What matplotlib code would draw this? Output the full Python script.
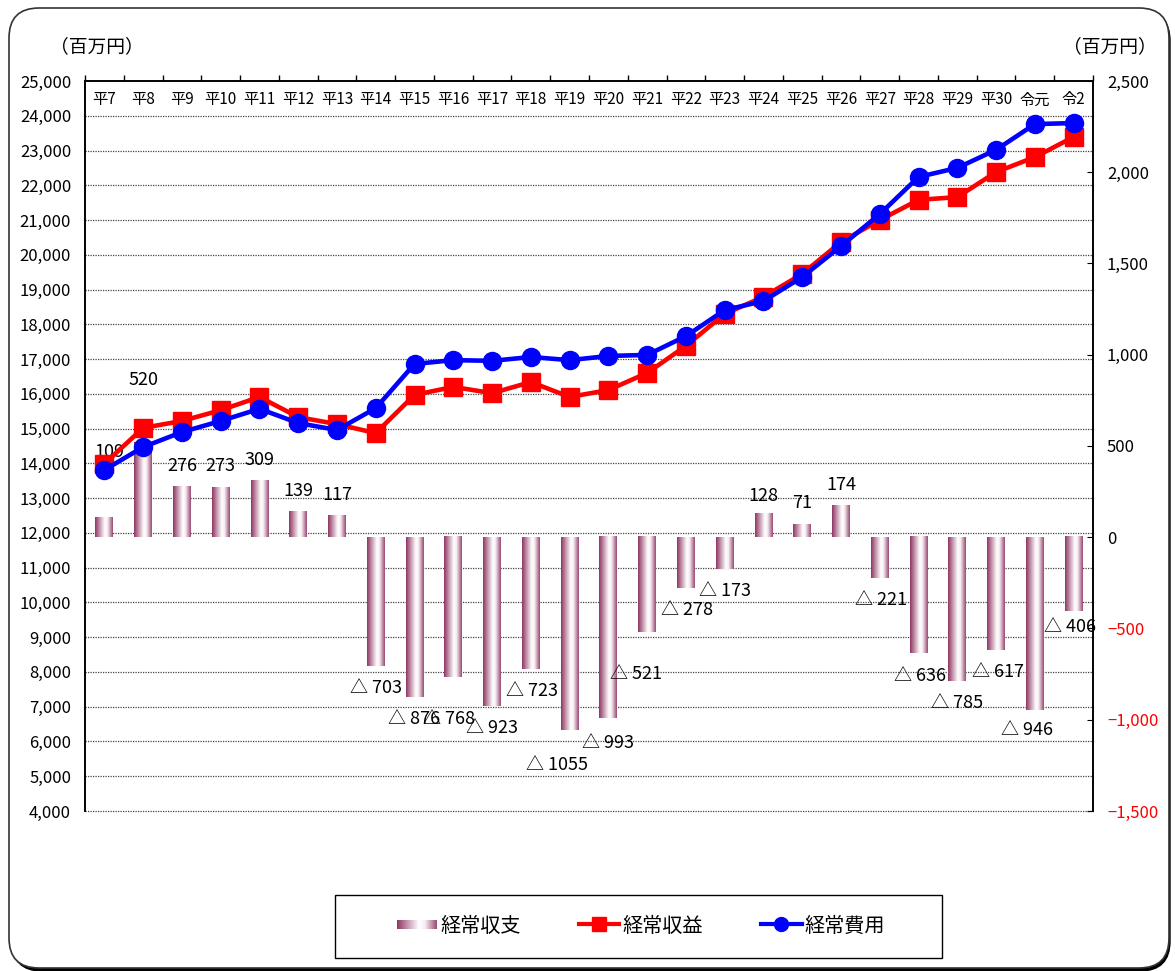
import numpy as np
import matplotlib
matplotlib.use('Agg')
import matplotlib.pyplot as plt
from matplotlib.colors import LinearSegmentedColormap
from matplotlib.patches import Rectangle, FancyBboxPatch, Patch
from matplotlib.lines import Line2D
from matplotlib.legend_handler import HandlerBase
from matplotlib.transforms import blended_transform_factory

plt.rcParams['font.family'] = ['Noto Sans CJK JP', 'DejaVu Sans']
plt.rcParams['axes.unicode_minus'] = False

# データ
cats = ['平7', '平8', '平9', '平10', '平11', '平12', '平13', '平14', '平15', '平16',
        '平17', '平18', '平19', '平20', '平21', '平22', '平23', '平24', '平25', '平26',
        '平27', '平28', '平29', '平30', '令元', '令2']
balance = [109, 520, 276, 273, 309, 139, 117, -703, -876, -768, -923, -723, -1055,
           -993, -521, -278, -173, 128, 71, 174, -221, -636, -785, -617, -946, -406]
revenue = [13990, 15020, 15220, 15530, 15910, 15330, 15130, 14870, 15970, 16200,
           16020, 16340, 15910, 16110, 16600, 17380, 18300, 18790, 19450, 20370,
           21000, 21580, 21660, 22380, 22810, 23390]
expense = [13810, 14470, 14900, 15220, 15570, 15160, 14960, 15590, 16860, 16970,
           16950, 17060, 16970, 17090, 17120, 17660, 18410, 18670, 19360, 20250,
           21170, 22240, 22500, 23020, 23760, 23790]

# ラベル位置のずれ（カテゴリ単位, 右軸単位）
label_dx = [0.14, 0, 0, 0, 0, 0, 0, 0, 0, -0.12, 0, 0.03, -0.32, 0, -0.29,
            0.03, 0, 0, 0, 0, 0.03, 0.04, 0, 0.05, -0.2, -0.1]
label_dy = [358, 340, 114, 117, 114, 114, 115, -123, -120, -228, -122, -120, -193,
            -135, -229, -121, -122, 98, 117, 113, -122, -124, -123, -121, -109, -85]

grad_cmap = LinearSegmentedColormap.from_list(
    'bar', [(0, '#8f3563'), (0.55, '#ffffff'), (0.7, '#f6eef2'), (1.0, '#9a4a74')])

x = np.arange(len(cats))

fig = plt.figure(figsize=(11.75, 9.71), dpi=100)

# 外枠（角丸）
shadow = FancyBboxPatch((0.12, 0.0), 11.58, 9.60, boxstyle='round,pad=0,rounding_size=0.3',
                        transform=fig.dpi_scale_trans, fc='black', ec='black', lw=1, zorder=-2)
frame = FancyBboxPatch((0.09, 0.03), 11.60, 9.60, boxstyle='round,pad=0,rounding_size=0.3',
                       transform=fig.dpi_scale_trans, fc='white', ec='#333333', lw=1.2, zorder=-1)
fig.patches.extend([shadow, frame])

ax = fig.add_axes([85/1175, 1-811/971, 1008/1175, 730/971])
ax2 = ax.twinx()
ax.set_zorder(ax2.get_zorder() + 1)
ax.patch.set_visible(False)

# 棒（経常収支）右軸
bw = 0.46
grad = np.linspace(0, 1, 100)[None, :]
for i, v in enumerate(balance):
    ax2.imshow(grad, extent=(i - bw/2, i + bw/2, 0, v), aspect='auto',
               cmap=grad_cmap, interpolation='bilinear', zorder=2)

# 目盛線（左軸）を棒の後ろに
gt = blended_transform_factory(ax2.transAxes, ax.transData)
for v in range(4000, 25000, 1000):
    ax2.plot([0, 1], [v, v], transform=gt, color='#444444', lw=0.9,
             ls=(0, (1, 1)), zorder=1, clip_on=False)

# 折れ線
ax.plot(x, revenue, color='#ff0000', lw=3.3, marker='s', ms=12.5, zorder=3)
ax.plot(x, expense, color='#0000ff', lw=3.3, marker='o', ms=13, zorder=4)

ax.set_xlim(-0.5, len(cats) - 0.5)
ax.set_ylim(4000, 25000)
ax2.set_ylim(-1500, 2500)

# 左軸
ax.set_yticks(range(4000, 25001, 1000))
ax.set_yticklabels([f'{v:,}' for v in range(4000, 25001, 1000)], fontsize=12)
ax.tick_params(axis='y', length=0, pad=10)

# 右軸
rt = list(range(-1500, 2501, 500))
ax2.set_yticks(rt)
ax2.set_yticklabels([f'{v:,}'.replace('-', '−') for v in rt], fontsize=12)
for lab, v in zip(ax2.get_yticklabels(), rt):
    if v < 0:
        lab.set_color('#ff0000')
ax2.tick_params(axis='y', direction='in', length=4, pad=10)

# 上側のカテゴリ軸
ax.xaxis.tick_top()
ax.set_xticks(np.arange(-0.5, len(cats), 1.0))
ax.set_xticklabels([])
ax.tick_params(axis='x', direction='out', length=4, width=1)
for i, c in enumerate(cats):
    ax.text(i, 0.974, c, transform=blended_transform_factory(ax.transData, ax.transAxes),
            ha='center', va='center', fontsize=11)

for a in (ax, ax2):
    a.spines['bottom'].set_visible(False)
    for s in ('top', 'left', 'right'):
        a.spines[s].set_linewidth(1.2)

# データラベル
for i, v in enumerate(balance):
    txt = f'△ {-v}' if v < 0 else f'{v}'
    ax2.text(i + label_dx[i], v + label_dy[i], txt, ha='center', va='center',
             fontsize=13, zorder=5)

fig.text(97/1175, 1-47/971, '（百万円）', ha='center', va='center', fontsize=13.5)
fig.text(1110/1175, 1-47/971, '（百万円）', ha='center', va='center', fontsize=13.5)


# 凡例
class GradHandler(HandlerBase):
    def create_artists(self, legend, orig, xd, yd, width, height, fontsize, trans):
        n = 40
        h = height * 0.6
        arts = []
        for k in range(n):
            arts.append(Rectangle((-xd + width * k / n, -yd + (height - h) / 2),
                                  width / n * 1.1, h, fc=grad_cmap((k + 0.5) / n),
                                  lw=0, transform=trans))
        return arts


h_bar = Patch(label='経常収支')
h_rev = Line2D([], [], color='#ff0000', lw=3, marker='s', ms=10, label='経常収益')
h_exp = Line2D([], [], color='#0000ff', lw=3, marker='o', ms=10, label='経常費用')
fig.legend(handles=[h_bar, h_rev, h_exp], handler_map={h_bar: GradHandler()},
           loc='center', bbox_to_anchor=(641/1175, 1-926/971), ncol=3, frameon=False,
           fontsize=14.5, handlelength=2.0, handletextpad=0.15, columnspacing=2.9)
fig.patches.append(Rectangle((335/1175, 1-958/971), 607/1175, 63/971,
                             transform=fig.transFigure, fc='none', ec='black', lw=1))

fig.savefig('out.png', dpi=100)
